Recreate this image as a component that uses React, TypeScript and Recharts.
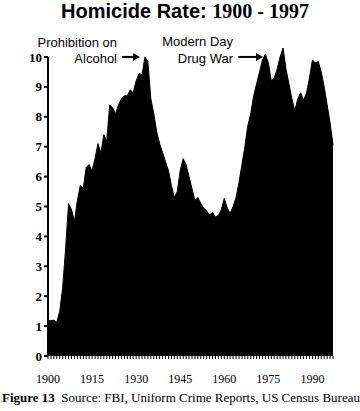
import { AreaChart, Area, XAxis, YAxis, ReferenceLine } from "recharts";

const years = Array.from({ length: 98 }, (_, i) => 1900 + i);

const homicideRate = [
  1.18, 1.18, 1.2, 1.13, 1.5, 2.3, 3.6, 5.1, 4.9, 4.5,
  5.2, 5.7, 5.6, 6.3, 6.4, 6.2, 6.6, 7.1, 6.8, 7.4,
  7.2, 8.4, 8.3, 8.1, 8.4, 8.6, 8.7, 8.7, 8.9, 8.8,
  9.2, 9.45, 9.4, 10.0, 9.85, 8.6, 8.1, 7.5, 7.1, 6.8,
  6.5, 6.2, 5.7, 5.3, 5.5, 6.2, 6.6, 6.4, 6.0, 5.6,
  5.2, 5.3, 5.1, 4.95, 4.85, 4.72, 4.8, 4.65, 4.7, 4.9,
  5.27, 4.95, 4.77, 5.0, 5.3, 5.8, 6.4, 7.0, 7.7, 8.1,
  8.7, 9.1, 9.5, 9.9, 10.1, 9.8, 9.2, 9.3, 9.6, 10.0,
  10.3, 9.6, 9.1, 8.6, 8.2, 8.6, 8.8, 8.56, 8.8, 9.3,
  9.9, 9.8, 9.85, 9.5, 9.0, 8.4, 7.8, 7.06,
];

const yearLabels = [1900, 1915, 1930, 1945, 1960, 1975, 1990];
const rateTicks = [0, 1, 2, 3, 4, 5, 6, 7, 8, 9, 10];

// annotation arrows: [fromYear, toYear, level]
const prohibitionArrow = [1925.2, 1931.3, 10];
const drugWarArrow = [1964.8, 1973.2, 10];

const data = years.map((year, i) => ({ year, rate: homicideRate[i] }));

const Arrow = (props: any) => {
  const { x1, y1, x2, y2 } = props;
  return (
    <g>
      <line x1={x1} y1={y1} x2={x2 - 6} y2={y2} stroke="#000" strokeWidth={2} />
      <polygon points={`${x2},${y2} ${x2 - 7},${y2 - 4} ${x2 - 7},${y2 + 4}`} fill="#000" />
    </g>
  );
};

export default function App() {
  return (
    <div style={{ position: "absolute", left: 0, top: 0, width: 360, height: 411, background: "#fff" }}>
      <AreaChart
        width={360}
        height={411}
        data={data}
        margin={{ top: 42, right: 27, bottom: 25, left: 8 }}
      >
        <XAxis
          dataKey="year"
          type="number"
          domain={[1900, 1997]}
          ticks={years}
          interval={0}
          tickFormatter={(v: number) => (yearLabels.includes(v) ? String(v) : "")}
          axisLine={false}
          tickLine={{ stroke: "#000" }}
          tickSize={3}
          tickMargin={15}
          height={30}
          tick={{ fill: "#000", fontFamily: "Liberation Serif", fontSize: 12 }}
        />
        <YAxis
          domain={[0, 10.5]}
          ticks={rateTicks}
          width={40}
          axisLine={false}
          tickLine={{ stroke: "#000", strokeWidth: 2 }}
          tickSize={4}
          tick={{ fill: "#000", fontFamily: "Liberation Serif", fontWeight: "bold", fontSize: 13 }}
        />
        <Area
          type="linear"
          dataKey="rate"
          stroke="#000"
          strokeWidth={1}
          fill="#000"
          fillOpacity={1}
          isAnimationActive={false}
        />
        <ReferenceLine
          segment={[{ x: 1900, y: 0 }, { x: 1900, y: 10 }]}
          stroke="#000"
          strokeWidth={2}
        />
        <ReferenceLine
          segment={[
            { x: prohibitionArrow[0], y: prohibitionArrow[2] },
            { x: prohibitionArrow[1], y: prohibitionArrow[2] },
          ]}
          shape={Arrow}
        />
        <ReferenceLine
          segment={[
            { x: drugWarArrow[0], y: drugWarArrow[2] },
            { x: drugWarArrow[1], y: drugWarArrow[2] },
          ]}
          shape={Arrow}
        />
      </AreaChart>
      <svg
        width={360}
        height={411}
        style={{ position: "absolute", left: 0, top: 0, pointerEvents: "none" }}
      >
        <text x={185} y={18} textAnchor="middle" fontSize={20} fontWeight="bold">
          <tspan fontFamily="Liberation Sans">Homicide Rate: </tspan>
          <tspan fontFamily="Liberation Serif">1900 - 1997</tspan>
        </text>
        <g fontFamily="Liberation Sans" fontSize={13} fill="#000" textAnchor="end">
          <text x={117} y={47}>Prohibition on</text>
          <text x={117} y={63}>Alcohol</text>
          <text x={233} y={46}>Modern Day</text>
          <text x={233} y={63}>Drug War</text>
        </g>
        <text x={2} y={402} fontFamily="Liberation Serif" fontSize={13} fill="#000">
          <tspan fontWeight="bold">Figure 13</tspan>
          <tspan>{"\u00a0\u00a0Source: FBI, Uniform Crime Reports, US Census Bureau"}</tspan>
        </text>
      </svg>
    </div>
  );
}
